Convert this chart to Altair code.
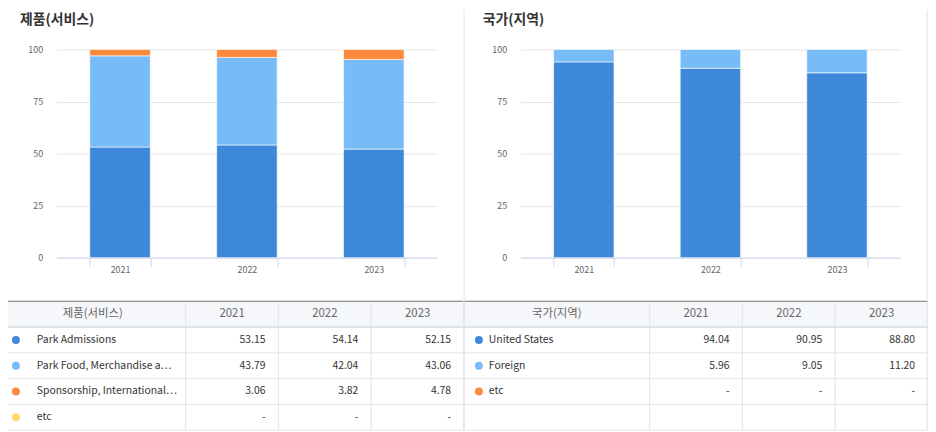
import altair as alt
import pandas as pd

FONT = "Noto Sans CJK KR"

# ---------------- data ----------------
YEARS = ["2021", "2022", "2023"]
Y_TICKS = [0, 25, 50, 75, 100]

PROD_TITLE = "제품(서비스)"
PROD_SERIES = [
    "Park Admissions",
    "Park Food, Merchandise and Other",
    "Sponsorship, International Agreements and Accommodations",
    "etc",
]
PROD_ADMISSIONS = [53.15, 54.14, 52.15]
PROD_FOOD = [43.79, 42.04, 43.06]
PROD_SPONSOR = [3.06, 3.82, 4.78]
PROD_ETC = [None, None, None]
PROD_VALUES = [PROD_ADMISSIONS, PROD_FOOD, PROD_SPONSOR, PROD_ETC]
PROD_COLORS = ["#3d88d8", "#78bcf7", "#fc8a3c", "#ffd966"]

GEO_TITLE = "국가(지역)"
GEO_SERIES = ["United States", "Foreign", "etc"]
GEO_US = [94.04, 90.95, 88.80]
GEO_FOREIGN = [5.96, 9.05, 11.20]
GEO_ETC = [None, None, None]
GEO_VALUES = [GEO_US, GEO_FOREIGN, GEO_ETC]
GEO_COLORS = ["#3d88d8", "#78bcf7", "#fc8a3c"]

# ---------------- layout (pixels inside the chart) ----------------
W, H = 928, 424
BAR_Y_RANGE = [250, 40]
ROW_Y_RANGE = [294, 424]
ROW_KEYS = ["h", "0", "1", "2", "3"]
COL_EDGES = [0, 2, 3, 4, 5]

PANELS = [
    dict(title=PROD_TITLE, series=PROD_SERIES, values=PROD_VALUES, colors=PROD_COLORS,
         bar_x=[49, 433], table_x=[-8, 460], title_x=12, dot_dx=16, name_dx=37),
    dict(title=GEO_TITLE, series=GEO_SERIES, values=GEO_VALUES, colors=GEO_COLORS,
         bar_x=[517, 900], table_x=[460, 928], title_x=479, dot_dx=15, name_dx=25),
]


def panel_layers(p):
    layers = []
    # ----- stacked bars -----
    rows = []
    for si, s in enumerate(p["series"]):
        for yi, yr in enumerate(YEARS):
            v = p["values"][si][yi]
            if v is None:
                continue
            rows.append({"year": yr, "series": s, "value": v, "ord": si})
    bdf = pd.DataFrame(rows)
    bars = alt.Chart(bdf).mark_bar(stroke="white", strokeWidth=1, strokeOpacity=0.6).encode(
        x=alt.X("year:N", sort=YEARS,
                scale=alt.Scale(domain=YEARS, range=p["bar_x"], paddingInner=0.523, paddingOuter=0.2615),
                axis=alt.Axis(title=None, orient="bottom", offset=BAR_Y_RANGE[0] - H, labelAngle=0,
                              domainColor="#ccd6eb", tickColor="#ccd6eb", tickSize=9, tickBand="extent",
                              labelPadding=-1, labelFontSize=9, labelColor="#666666", labelFont=FONT,
                              grid=False, zindex=1)),
        y=alt.Y("value:Q", stack="zero",
                scale=alt.Scale(domain=[0, 100], range=BAR_Y_RANGE, nice=False, zero=True),
                axis=alt.Axis(title=None, orient="left", offset=-p["bar_x"][0], values=Y_TICKS,
                              domain=False, ticks=False, tickSize=0, labelPadding=14,
                              labelFontSize=9, labelColor="#666666", labelFont=FONT,
                              grid=True, gridColor="#e6e6e6", gridWidth=1, zindex=0)),
        color=alt.Color("series:N", scale=alt.Scale(domain=p["series"], range=p["colors"]), legend=None),
        order=alt.Order("ord:Q"),
    )
    layers.append(bars)

    # ----- title -----
    tdf = pd.DataFrame({"t": [p["title"]]})
    layers.append(alt.Chart(tdf).mark_text(align="left", baseline="middle", font=FONT, fontSize=14,
                                           fontWeight="bold", color="#333333").encode(
        x=alt.value(p["title_x"]), y=alt.value(10), text="t:N"))

    # ----- table -----
    xs = alt.Scale(domain=[0, 5], range=p["table_x"], nice=False, zero=False)
    ys = alt.Scale(domain=ROW_KEYS, range=ROW_Y_RANGE, paddingInner=0, paddingOuter=0)

    cells = []
    for rk in ROW_KEYS:
        for ci in range(4):
            cells.append({"row": rk, "x0": COL_EDGES[ci], "x1": COL_EDGES[ci + 1],
                          "kind": "h" if rk == "h" else "b"})
    cdf = pd.DataFrame(cells)
    layers.append(alt.Chart(cdf).mark_rect(stroke="#e4e7ef", strokeWidth=1).encode(
        x=alt.X("x0:Q", scale=xs, axis=None), x2="x1:Q",
        y=alt.Y("row:N", scale=ys, axis=None),
        color=alt.Color("kind:N", scale=alt.Scale(domain=["h", "b"], range=["#f6f7fa", "#ffffff"]),
                        legend=None)))

    # header lines
    ldf = pd.DataFrame([{"row": "h", "x0": 0, "x1": 5, "kind": "top"},
                        {"row": "0", "x0": 0, "x1": 5, "kind": "bot"}])
    layers.append(alt.Chart(ldf).mark_rule(strokeWidth=1).encode(
        x=alt.X("x0:Q", scale=xs, axis=None), x2="x1:Q",
        y=alt.Y("row:N", scale=ys, axis=None, bandPosition=0),
        color=alt.Color("kind:N", scale=alt.Scale(domain=["top", "bot"], range=["#7a7a7a", "#cfd3dc"]),
                        legend=None)))

    # header texts
    hdf = pd.DataFrame([{"row": "h", "x": 1.0, "t": p["title"]}] +
                       [{"row": "h", "x": COL_EDGES[i + 1] + 0.5, "t": yr} for i, yr in enumerate(YEARS)])
    layers.append(alt.Chart(hdf).mark_text(align="center", baseline="middle", font=FONT, fontSize=11.5,
                                           color="#666666").encode(
        x=alt.X("x:Q", scale=xs, axis=None), y=alt.Y("row:N", scale=ys, axis=None), text="t:N"))

    # dots and names
    ndf = pd.DataFrame([{"row": ROW_KEYS[i + 1], "x": 0, "series": s} for i, s in enumerate(p["series"])])
    layers.append(alt.Chart(ndf).mark_circle(size=64, opacity=1, xOffset=p["dot_dx"]).encode(
        x=alt.X("x:Q", scale=xs, axis=None), y=alt.Y("row:N", scale=ys, axis=None),
        color=alt.Color("series:N", scale=alt.Scale(domain=p["series"], range=p["colors"]), legend=None)))
    layers.append(alt.Chart(ndf).mark_text(align="left", baseline="middle", font=FONT, fontSize=10.5,
                                           color="#333333", dx=p["name_dx"], limit=142,
                                           ellipsis="⋯").encode(
        x=alt.X("x:Q", scale=xs, axis=None), y=alt.Y("row:N", scale=ys, axis=None), text="series:N"))

    # values
    vrows = []
    for si, s in enumerate(p["series"]):
        for yi, yr in enumerate(YEARS):
            v = p["values"][si][yi]
            vrows.append({"row": ROW_KEYS[si + 1], "x": COL_EDGES[yi + 2],
                          "t": "-" if v is None else f"{v:.2f}"})
    vdf = pd.DataFrame(vrows)
    layers.append(alt.Chart(vdf).mark_text(align="right", baseline="middle", font=FONT, fontSize=10.5,
                                           color="#333333", dx=-13).encode(
        x=alt.X("x:Q", scale=xs, axis=None), y=alt.Y("row:N", scale=ys, axis=None), text="t:N"))
    return layers


all_layers = []
for p in PANELS:
    all_layers += panel_layers(p)

# panel frame lines (decoration)
frame = alt.Chart(pd.DataFrame({"k": ["d"]})).mark_rule(color="#dfe3ec", strokeWidth=1).encode(
    x=alt.value(460), y=alt.value(0), y2=alt.value(H))
frame2 = alt.Chart(pd.DataFrame({"k": ["r"]})).mark_rule(color="#dfe3ec", strokeWidth=1).encode(
    x=alt.value(927), y=alt.value(0), y2=alt.value(H))
all_layers += [frame, frame2]

chart = alt.layer(*all_layers).resolve_scale(
    x="independent", y="independent", color="independent"
).resolve_axis(x="independent", y="independent").properties(
    width=W, height=H, padding=0, autosize=alt.AutoSizeParams(type="none"), background="white"
).configure_view(stroke=None)

chart.save("out.html", embed_options={"renderer": "svg", "actions": False})
